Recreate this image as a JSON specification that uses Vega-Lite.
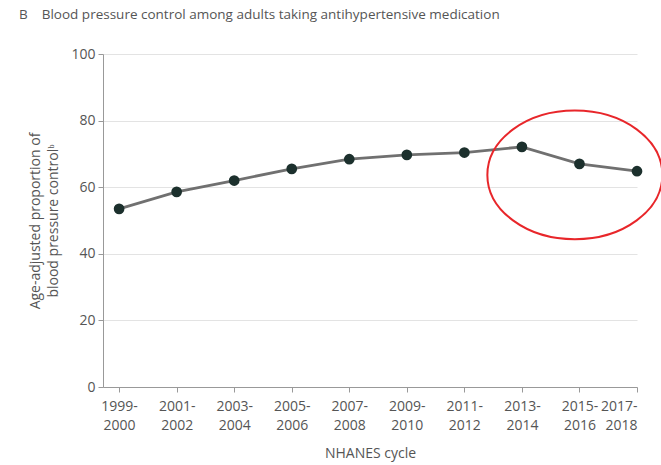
{
  "$schema": "https://vega.github.io/schema/vega-lite/v6.json",
  "width": 534,
  "height": 333,
  "autosize": {"type": "none"},
  "padding": {"left": 103, "top": 54, "right": 24, "bottom": 78},
  "background": "white",
  "title": {
    "text": "B\u00a0\u00a0\u00a0\u00a0Blood pressure control among adults taking antihypertensive medication",
    "anchor": "start",
    "frame": "bounds",
    "offset": 26,
    "dx": -10,
    "font": "Open Sans",
    "fontSize": 13.5,
    "fontWeight": "normal",
    "color": "#555555"
  },
  "config": {
    "view": {"stroke": null},
    "font": "Open Sans",
    "axis": {
      "labelFont": "Open Sans",
      "titleFont": "Open Sans",
      "labelColor": "#555555",
      "titleColor": "#555555",
      "labelFontSize": 14,
      "titleFontSize": 14,
      "titleFontWeight": "normal",
      "domainColor": "#999999",
      "tickColor": "#999999",
      "gridColor": "#e3e3e3"
    },
    "axisY": {"titleLineHeight": 18}
  },
  "datasets": {
    "bp": [
      {"cycle": 1999, "control": 53.5},
      {"cycle": 2001, "control": 58.6},
      {"cycle": 2003, "control": 62.0},
      {"cycle": 2005, "control": 65.5},
      {"cycle": 2007, "control": 68.4},
      {"cycle": 2009, "control": 69.7},
      {"cycle": 2011, "control": 70.4},
      {"cycle": 2013, "control": 72.1},
      {"cycle": 2015, "control": 67.0},
      {"cycle": 2017, "control": 64.8}
    ],
    "highlight": [
      {"cycle": 2014.84, "control": 63.7}
    ]
  },
  "layer": [
    {
      "data": {"name": "bp"},
      "mark": {"type": "line", "color": "#707070", "strokeWidth": 2.8},
      "encoding": {
        "x": {
          "field": "cycle",
          "type": "quantitative",
          "scale": {"domain": [1998.44, 2017], "nice": false, "zero": false},
          "axis": {
            "values": [1999, 2001, 2003, 2005, 2007, 2009, 2011, 2013, 2015, 2017],
            "labelExpr": "[datum.value + '-', '' + (datum.value + 1)]",
            "labelLineHeight": 19,
            "grid": false,
            "tickSize": 5,
            "labelPadding": 7,
            "title": "NHANES cycle",
            "titlePadding": 14
          }
        },
        "y": {
          "field": "control",
          "type": "quantitative",
          "scale": {"domain": [0, 100], "nice": false},
          "axis": {
            "values": [0, 20, 40, 60, 80, 100],
            "tickSize": 5,
            "labelPadding": 3,
            "grid": true,
            "title": ["Age-adjusted proportion of", "blood pressure control\u1d47"],
            "titleLineHeight": 18,
            "titlePadding": 10
          }
        }
      }
    },
    {
      "data": {"name": "bp"},
      "mark": {"type": "circle", "color": "#1c302d", "opacity": 1, "size": 115},
      "encoding": {
        "x": {"field": "cycle", "type": "quantitative"},
        "y": {"field": "control", "type": "quantitative"}
      }
    },
    {
      "data": {"name": "highlight"},
      "mark": {
        "type": "point",
        "shape": "M -1 0 A 1 0.735 0 1 0 1 0 A 1 0.735 0 1 0 -1 0 Z",
        "filled": false,
        "stroke": "#e8262a",
        "strokeWidth": 2,
        "opacity": 1,
        "size": 30625,
        "clip": false
      },
      "encoding": {
        "x": {"field": "cycle", "type": "quantitative"},
        "y": {"field": "control", "type": "quantitative"}
      }
    }
  ]
}
